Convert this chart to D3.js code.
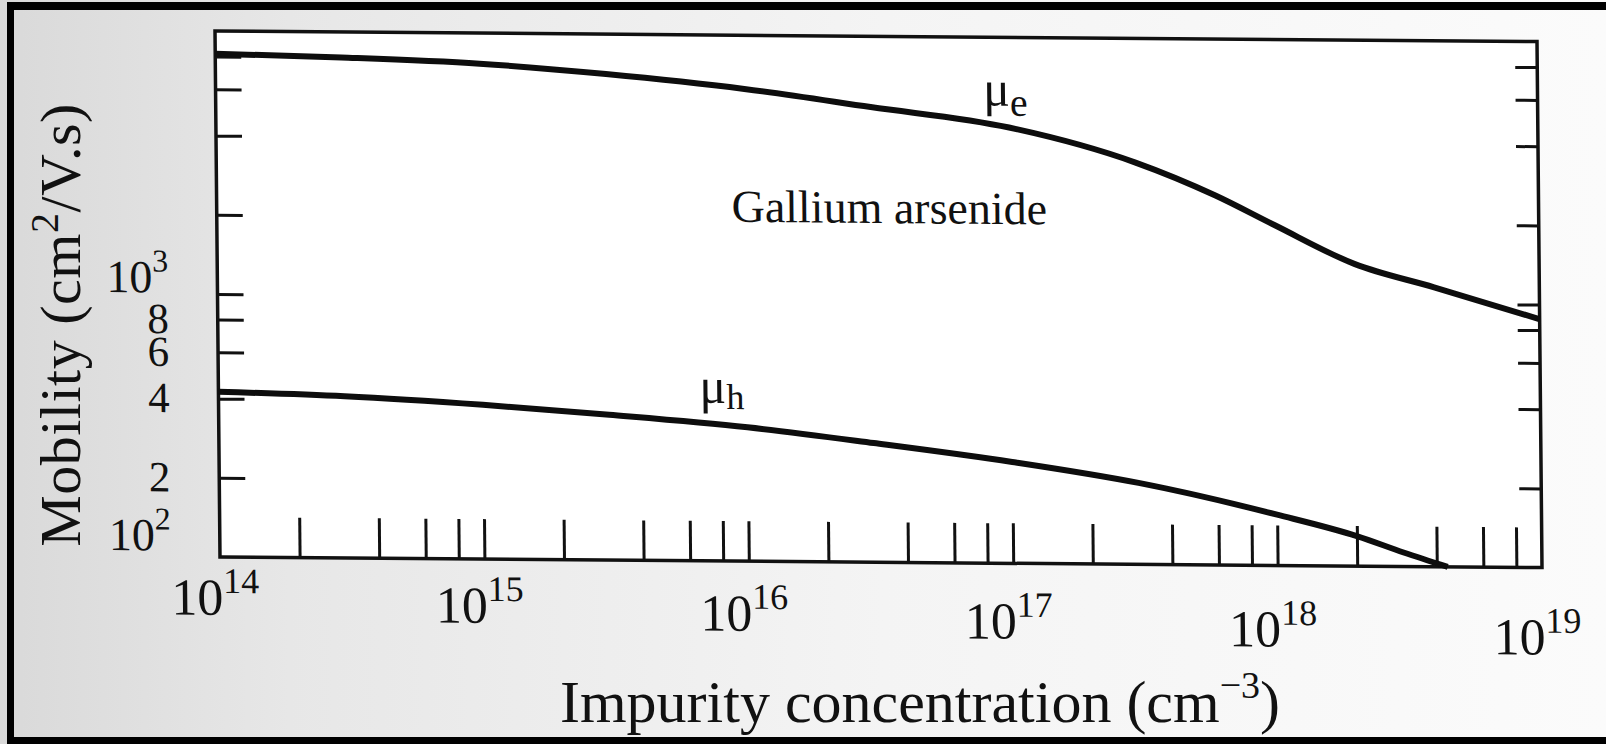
<!DOCTYPE html>
<html>
<head>
<meta charset="utf-8">
<script src="https://cdn.jsdelivr.net/npm/d3@7"></script>
<style>
  body { margin: 0; background: #fff; }
  text { font-family: "Liberation Serif", "DejaVu Serif", serif; fill: #111; }
</style>
</head>
<body>
<div id="chart-area"></div>
<script>

// values (GaAs mobility vs impurity concentration)
let concElectron = [1e14, 3e14, 1e15, 3e15, 1e16, 3e16, 1e17, 3e17, 6e17, 1e18, 2e18, 4e18, 1e19];
let mobElectron  = [8200, 8000, 7650, 7050, 6250, 5380, 4540, 3370, 2540, 1970, 1410, 1155, 880];

let concHole = [1e14, 3e14, 1e15, 3e15, 1e16, 3e16, 1e17, 3e17, 1e18, 2e18, 3e18, 4.4e18];
let mobHole  = [425, 412, 386, 357, 323, 284, 243, 204, 156, 130, 113, 100];

// tick labels
let xExponents = [14, 15, 16, 17, 18, 19];
let yLabelValues = [100, 200, 400, 600, 800, 1000];
let yLabelBase   = ["10", "2", "4", "6", "8", "10"];
let yLabelSup    = ["2", "", "", "", "", "3"];

// annotations inside the plot
let curveNames = ["μ", "μ"];
let curveSubs  = ["e", "h"];
let curveLabelConc = [8e16, 6.6e15];
let curveLabelMob  = [5500, 399];
let materialName = "Gallium arsenide";

let width = 1606,
    height = 744;
let plotW = 1322,
    plotH = 526;

let svg = d3.select("#chart-area").append("svg")
    .attr("width", width)
    .attr("height", height);

// paper background
let grad = svg.append("defs").append("linearGradient")
    .attr("id", "paper");
grad.append("stop").attr("offset", "0%").attr("stop-color", "#d9d9d9");
grad.append("stop").attr("offset", "18%").attr("stop-color", "#e7e7e7");
grad.append("stop").attr("offset", "55%").attr("stop-color", "#f4f4f4");
grad.append("stop").attr("offset", "100%").attr("stop-color", "#fbfbfb");

svg.append("rect")
    .attr("width", width)
    .attr("height", height)
    .attr("fill", "url(#paper)");

// scan border
svg.append("rect").attr("x", 7).attr("y", 2).attr("width", 7).attr("height", 742).attr("fill", "#000");
svg.append("rect").attr("x", 7).attr("y", 2).attr("width", width - 7).attr("height", 8).attr("fill", "#000");
svg.append("rect").attr("x", 7).attr("y", 737).attr("width", width - 7).attr("height", 7).attr("fill", "#000");

// scales
let x = d3.scaleLog().domain([1e14, 1e19]).range([0, plotW]);
let y = d3.scaleLog().domain([100, 10000]).range([plotH, 0]);

// the scan is slightly skewed, so the plot group is too
let g = svg.append("g")
    .attr("transform", "matrix(1,0.008,0.0095,1,215,31)");

g.append("rect")
    .attr("width", plotW)
    .attr("height", plotH)
    .attr("fill", "#fff");

// minor tick values 2,4,6,8 and decades
let xTicks = [];
for (let e = 14; e < 19; e++) {
  [1, 2, 4, 6, 8].forEach(function(m) {
    let v = m * Math.pow(10, e);
    if (e > 14 || m > 1) xTicks.push(v);
  });
}
let yTicks = [];
for (let e = 2; e < 4; e++) {
  [1, 2, 4, 6, 8].forEach(function(m) {
    let v = m * Math.pow(10, e);
    if (e > 2 || m > 1) yTicks.push(v);
  });
}

let xAxis = g.append("g")
    .attr("transform", "translate(0," + plotH + ")")
    .call(d3.axisBottom(x).tickValues(xTicks).tickSize(-40).tickFormat(""));
let leftAxis = g.append("g")
    .call(d3.axisLeft(y).tickValues(yTicks).tickSize(-26).tickFormat(""));
let rightAxis = g.append("g")
    .attr("transform", "translate(" + plotW + ",0)")
    .call(d3.axisRight(y).tickValues(yTicks).tickSize(-22).tickFormat(""));

[xAxis, leftAxis, rightAxis].forEach(function(a) {
  a.select(".domain").remove();
  a.selectAll(".tick line").attr("stroke", "#111").attr("stroke-width", 3);
});

// frame
g.append("rect")
    .attr("width", plotW)
    .attr("height", plotH)
    .attr("fill", "none")
    .attr("stroke", "#111")
    .attr("stroke-width", 3.5);

// curves
let line = d3.line()
    .x(function(d) { return x(d[0]); })
    .y(function(d) { return y(d[1]); })
    .curve(d3.curveMonotoneX);

g.append("path")
    .datum(d3.zip(concElectron, mobElectron))
    .attr("d", line)
    .attr("fill", "none")
    .attr("stroke", "#0d0d0d")
    .attr("stroke-width", 6);

g.append("path")
    .datum(d3.zip(concHole, mobHole))
    .attr("d", line)
    .attr("fill", "none")
    .attr("stroke", "#0d0d0d")
    .attr("stroke-width", 6);

// curve labels
curveNames.forEach(function(name, i) {
  let t = g.append("text")
      .attr("x", x(curveLabelConc[i]))
      .attr("y", y(curveLabelMob[i]))
      .attr("font-size", 50)
      .text(name);
  t.append("tspan")
      .attr("dy", i == 0 ? 10 : 6)
      .attr("font-size", i == 0 ? 40 : 36)
      .text(curveSubs[i]);
});

g.append("text")
    .attr("x", x(3.5e16))
    .attr("y", y(1950))
    .attr("text-anchor", "middle")
    .attr("font-size", 46)
    .text(materialName);

// y tick labels
yLabelValues.forEach(function(v, i) {
  let isDecade = yLabelSup[i] != "";
  let nudge = v == 100 ? -6 : (v == 1000 ? -1 : 14);
  let t = g.append("text")
      .attr("x", -49)
      .attr("y", y(v) + nudge)
      .attr("text-anchor", "end")
      .attr("font-size", isDecade ? 46 : 43)
      .text(yLabelBase[i]);
  if (isDecade) {
    t.append("tspan")
        .attr("dy", -21)
        .attr("font-size", 32)
        .text(yLabelSup[i]);
  }
});

// x tick labels (the printed row drifts down to the right)
xExponents.forEach(function(e) {
  let px = x(Math.pow(10, e));
  let t = g.append("text")
      .attr("x", px - 5)
      .attr("y", plotH + 58 + px * 0.022)
      .attr("text-anchor", "middle")
      .attr("font-size", 52)
      .text("10");
  t.append("tspan")
      .attr("dy", -22)
      .attr("font-size", 36)
      .text(e);
});

// axis titles
let yTitle = svg.append("text")
    .attr("transform", "translate(80,325) rotate(-90)")
    .attr("text-anchor", "middle")
    .attr("font-size", 58)
    .attr("letter-spacing", 0.5)
    .text("Mobility (cm");
yTitle.append("tspan").attr("dy", -22).attr("font-size", 40).text("2");
yTitle.append("tspan").attr("dy", 22).text("/V.s)");

let xTitle = svg.append("text")
    .attr("x", 920)
    .attr("y", 722)
    .attr("text-anchor", "middle")
    .attr("font-size", 60)
    .text("Impurity concentration (cm");
xTitle.append("tspan").attr("dy", -24).attr("font-size", 38).text("−3");
xTitle.append("tspan").attr("dy", 24).text(")");

</script>
</body>
</html>
